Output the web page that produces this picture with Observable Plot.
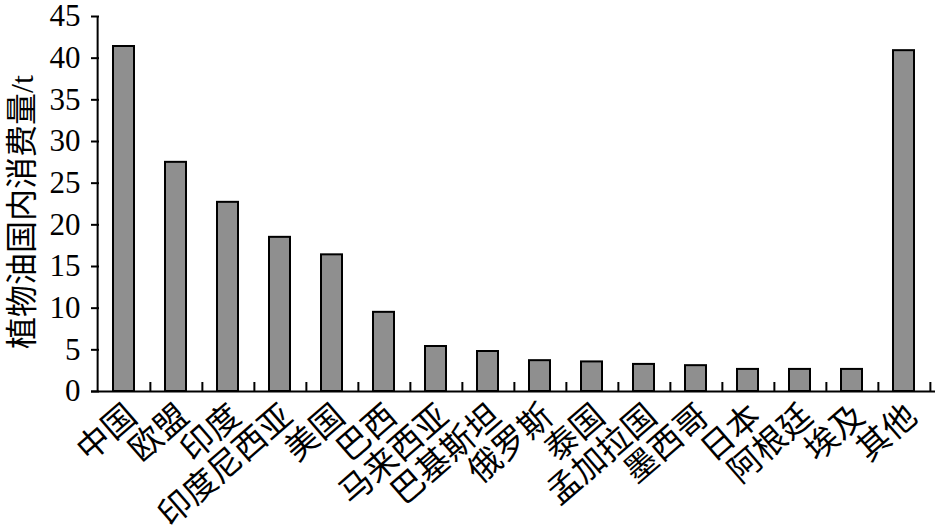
<!DOCTYPE html>
<html><head><meta charset="utf-8">
<script src="https://cdn.jsdelivr.net/npm/d3@7"></script>
<script src="https://cdn.jsdelivr.net/npm/@observablehq/plot@0.6"></script>
<style>body{margin:0;background:#fff}</style>
</head><body><div id="chart"></div>
<script>
const categories = ["中国","欧盟","印度","印度尼西亚","美国","巴西","马来西亚","巴基斯坦","俄罗斯","泰国","孟加拉国","墨西哥","日本","阿根廷","埃及","其他"];
const values = [41.4, 27.5, 22.7, 18.5, 16.4, 9.5, 5.4, 4.8, 3.7, 3.55, 3.25, 3.1, 2.65, 2.65, 2.65, 40.9];
const yTicks = [0,5,10,15,20,25,30,35,40,45];
const yLabel = "植物油国内消费量/t";
const data = categories.map((c,i)=>({name:c, value: values[i]}));
const W=938, H=528, mL=91, mR=3, mT=16, mB=137;
const step = (W-mL-mR)/categories.length;
const chart = Plot.plot({
  width: W, height: H, marginLeft: mL, marginRight: mR, marginTop: mT, marginBottom: mB,
  style: {fontFamily: "'Liberation Serif', 'Noto Sans CJK SC', serif", fontSize: "31px", color: "#000", background: "#fff", overflow: "visible"},
  x: {domain: categories, paddingInner: 0.6, paddingOuter: 0.3},
  y: {domain: [0,45]},
  marks: [
    Plot.barY(data, {x: "name", y: "value", fill: "#8f8f8f", stroke: "#000", strokeWidth: 2}),
    Plot.axisY({ticks: yTicks, tickSize: 0, tickPadding: 11, label: null, fontSize: 31}),
    Plot.ruleY(yTicks, {y: d => d, insetRight: W-mL-mR-8, strokeWidth: 2}),
    Plot.ruleY([0], {strokeWidth: 2}),
    Plot.ruleX([categories[0]], {y1: 0, y2: 45, dx: -step/2, strokeWidth: 2}),
    Plot.text([yLabel], {text: d => d, frameAnchor: "left", textAnchor: "middle", lineAnchor: "middle", rotate: -90, dx: -69, dy: 8, fontSize: 32}),
    Plot.axisX({tickSize: 0, tickRotate: -41, label: null, fontSize: 33, tickPadding: 20, dx: 8}),
    Plot.ruleX(categories, {x: d => d, y1: 0, y2: 0, insetTop: -9, dx: step/2, strokeWidth: 2})
  ]
});
document.getElementById("chart").appendChild(chart);
</script>
</body></html>
